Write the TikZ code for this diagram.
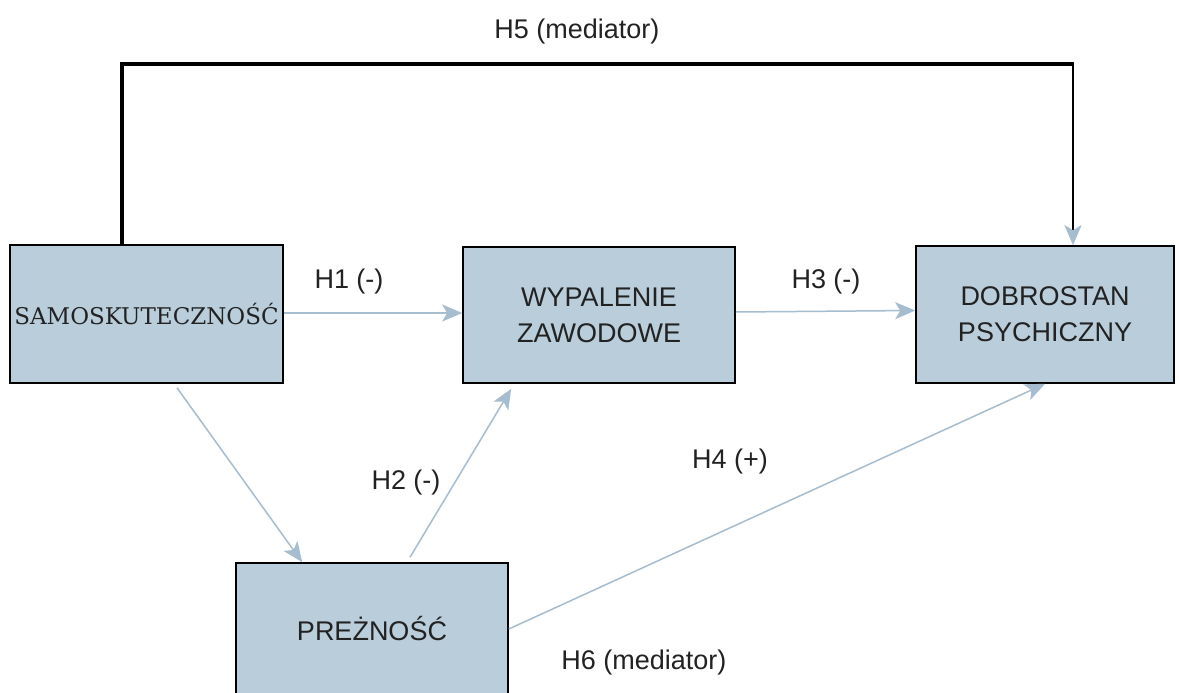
\documentclass[tikz,border=0pt]{standalone}
\usepackage{fontspec}
\setmainfont{Liberation Sans}
\newfontfamily\serifbox{DejaVu Serif}
\usetikzlibrary{arrows.meta,calc}
\definecolor{boxfill}{HTML}{B9CDDB}
\definecolor{arrblue}{HTML}{A6BCCF}
\definecolor{txt}{HTML}{222222}
\tikzset{
  varbox/.style={draw=black, line width=1.6pt, fill=boxfill, inner sep=0pt,
    text=txt, align=center, font=\fontsize{27}{36}\selectfont},
  tipb/.style={-{Stealth[length=20pt,width=17pt,inset=5pt,color=arrblue]}},
  link/.style={draw=arrblue, line width=1.5pt, tipb},
  lab/.style={text=txt, font=\fontsize{27}{30}\selectfont, inner sep=0pt},
  medline/.style={draw=black, line width=3.6pt},
}
\begin{document}
\begin{tikzpicture}[x=1pt,y=1pt]
\useasboundingbox (0,0) rectangle (1179,-693);
\clip (0,0) rectangle (1179,-693);
\fill[white] (0,0) rectangle (1179,-693);

\node[varbox, minimum width=273pt, minimum height=138pt] (samo) at (146.5,-314)
  {\serifbox\fontsize{23}{26}\selectfont SAMOSKUTECZNOŚĆ};
\node[varbox, minimum width=272pt, minimum height=136pt] (wyp) at (599,-315)
  {WYPALENIE\\ZAWODOWE};
\node[varbox, minimum width=258pt, minimum height=137pt] (dob) at (1045,-314.5)
  {DOBROSTAN\\PSYCHICZNY};
\node[varbox, minimum width=272pt, minimum height=132pt] (prez) at (372,-629)
  {PREŻNOŚĆ};

% H5 mediator path
\coordinate (h5a) at ($(samo.north)+(-24.5,0)$);
\coordinate (h5c) at ($(dob.north)+(28,0)$);
\coordinate (h5b) at (h5c |- 0,-64);
\draw[medline] (h5a) |- (h5b);
\draw[draw=black, line width=2.4pt, tipb] ($(h5b)+(0,1.8)$) -- (h5c);

% arrows
\draw[link] ($(samo.east)+(0,1)$) -- ($(wyp.west)+(0,2)$);
\draw[link] ($(wyp.east)+(0,3)$) -- ($(dob.west)+(0,4)$);
\draw[link] ($(samo.south)+(30.5,-4)$) -- ($(prez.north west)+(67,0)$);
\draw[link] ($(prez.north)+(38,5)$) -- ($(wyp.south west)+(49,-5)$);
\draw[link] (prez.east) -- (dob.south);

% labels
\node[lab] (l5) at (577,-32) {H5 (mediator)};
\node[lab] (l1) at (349,-282) {H1 (-)};
\node[lab] (l3) at (826,-282) {H3 (-)};
\node[lab] (l2) at (406,-483) {H2 (-)};
\node[lab] (l4) at (730,-462) {H4 (+)};
\node[lab] (l6) at (644,-663) {H6 (mediator)};
\end{tikzpicture}
\end{document}
